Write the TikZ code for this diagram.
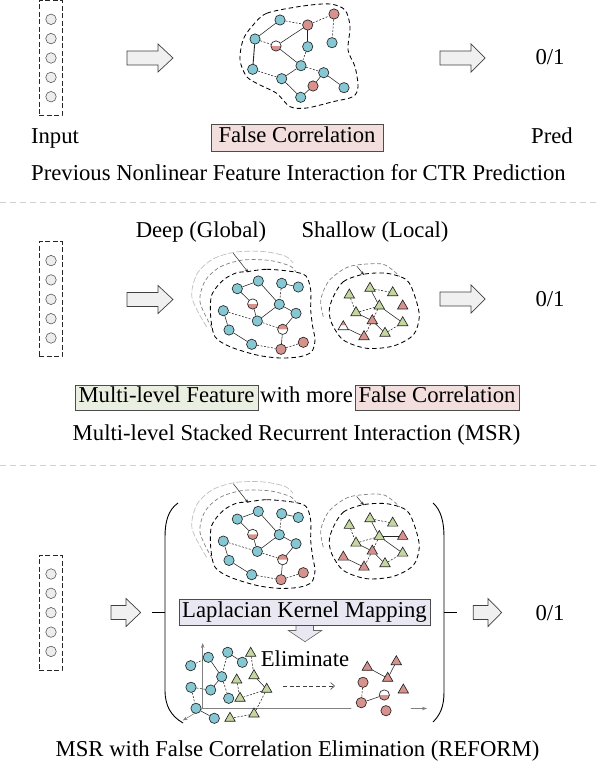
\documentclass[tikz,border=0pt]{standalone}
\usepackage{fontspec}
\setmainfont{Liberation Serif}
\usetikzlibrary{shapes.geometric,arrows.meta}
\definecolor{nblue}{RGB}{134,199,212}
\definecolor{nred}{RGB}{216,146,141}
\definecolor{ngreen}{RGB}{197,214,160}
\definecolor{pinkbox}{RGB}{243,222,222}
\definecolor{greenbox}{RGB}{234,240,225}
\definecolor{lavbox}{RGB}{233,231,242}
\definecolor{arrowfill}{RGB}{240,240,240}
\definecolor{edgec}{RGB}{35,35,35}
\pgfdeclareverticalshading{halfwr}{100bp}{color(0bp)=(nred); color(50bp)=(nred); color(50bp)=(white); color(100bp)=(white)}
\pgfdeclareverticalshading{halfrw}{100bp}{color(0bp)=(white); color(50bp)=(white); color(50bp)=(nred); color(100bp)=(nred)}
\tikzset{
 txt/.style={font=\fontsize{22.7}{27}\selectfont, inner sep=0pt},
 gnode/.style={circle, draw=edgec, line width=0.65pt, minimum size=10.3pt, inner sep=0pt},
 bn/.style={gnode, fill=nblue},
 rn/.style={gnode, fill=nred},
 wrn/.style={gnode, shading=halfwr},
 rwn/.style={gnode, shading=halfrw},
 tri/.style={regular polygon, regular polygon sides=3, draw=edgec, line width=0.65pt, minimum size=12pt, inner sep=0pt},
 gt/.style={tri, fill=ngreen},
 rt/.style={tri, fill=nred},
 rwt/.style={tri, shading=halfrw},
 se/.style={edgec, line width=0.55pt},
 de/.style={edgec, line width=0.55pt, dash pattern=on 2pt off 1.5pt},
 blob/.style={black, line width=0.85pt, dash pattern=on 4.5pt off 3pt},
 ghostA/.style={black!25, line width=0.7pt, dash pattern=on 6pt off 2pt},
 ghostB/.style={black!50, line width=0.7pt, dash pattern=on 4pt off 2.5pt},
 garrow/.style={black!85, line width=0.5pt, -{Stealth[length=4pt,width=3pt]}},
 incirc/.style={circle, draw=black!65, fill=black!7, line width=0.6pt, minimum size=10.5pt, inner sep=0pt},
 inbox/.style={draw=black!85, line width=0.8pt, dash pattern=on 5pt off 2.5pt, minimum width=23pt, minimum height=115pt, inner sep=0pt},
 lbl/.style={txt, draw=black!70, line width=0.7pt, text height=15pt, text depth=5pt},
 bigarr/.style={draw=black!75, fill=arrowfill, line width=0.7pt},
 sepline/.style={black!18, line width=0.8pt, dash pattern=on 6pt off 4pt},
 axis/.style={black!50, line width=0.6pt, -{Stealth[length=5pt,width=3.5pt]}},
}
\newcommand\bigarrow[6]{%
 \draw[bigarr] (#1,#2-#5) -- (#3,#2-#5) -- (#3,#2-#6) -- (#4,#2) -- (#3,#2+#6) -- (#3,#2+#5) -- (#1,#2+#5) -- cycle;}
\newcommand\inputcol[1]{%
 \node[inbox] (box) at (50.5,#1) {};
 \foreach \i/\d in {1/-38.7,2/-19.4,3/0,4/19.4,5/38.7}
   \node[incirc] (c\i) at (51,#1+\d) {};}
\newcommand\deepgraph{%
 \draw[ghostA] plot[smooth] coordinates {(206.7,327) (192,298) (197,274) (213,259) (236,252) (263,251.5) (285,256) (293,263)};
 \draw[ghostB] plot[smooth] coordinates {(212,328) (200,302) (205,281) (220,267) (243,260) (270,260.5) (290,266) (296,272)};
 \draw[blob] plot[smooth cycle] coordinates {(246.7,271.7) (266.7,269.3) (293,271.7) (306,276) (310.7,290) (310.7,310) (312.7,326.7) (315,340) (311.7,351.7) (300,356.7) (280,358) (256.7,355) (230,346.7) (215,336.7) (210.7,316.7) (211.7,295) (223.3,280) (236.7,272.7)};
 \coordinate (ga) at (233.3,253.3); \coordinate (gb) at (248.3,272.5);
 \draw[garrow] (ga) -- (gb);
 \node[bn] (a) at (258.3,281) {};
 \node[bn] (b) at (237.3,288.7) {};
 \node[bn] (c) at (281.7,283.3) {};
 \node[bn] (d) at (298.3,287) {};
 \node[wrn] (e) at (252.7,304) {};
 \node[bn] (f) at (279.3,304.3) {};
 \node[bn] (g) at (223.3,310.7) {};
 \node[bn] (h) at (296,313.3) {};
 \node[bn] (i) at (257.3,321) {};
 \node[rwn] (j) at (282.7,329.3) {};
 \node[bn] (k) at (229,330) {};
 \node[bn] (l) at (251.7,344.3) {};
 \node[rn] (m) at (281,349.3) {};
 \node[rn] (n) at (303.3,342.3) {};
 \draw[se] (b)--(a); \draw[se] (a)--(f); \draw[se] (c)--(d); \draw[de] (c)--(f);
 \draw[se] (b)--(e); \draw[se] (e)--(i); \draw[se] (f)--(i); \draw[se] (f)--(h);
 \draw[se] (h)--(j); \draw[de] (g)--(i); \draw[se] (g)--(k); \draw[de] (i)--(j);
 \draw[se] (k)--(l); \draw[de] (l)--(m); \draw[se] (j)--(m); \draw[de] (m)--(n);
}
\newcommand\shallowgraph[2]{%
 \draw[ghostB] plot[smooth] coordinates {(323.3,316.7) (320.7,300) (328.3,281.7) (343.3,269.3) (356.7,265) (383.3,264.3) (400,276.7)};
 \draw[blob] plot[smooth cycle] coordinates {(333.3,296.7) (343.3,281.7) (363.3,274.3) (386.7,273.3) (406.7,280) (415,296.7) (419.3,316.7) (413.3,335) (393.3,346) (366.7,348.3) (343.3,340) (331.7,323.3) (329.3,310)};
 \coordinate (sa) at (356.7,266); \coordinate (sb) at (364,275);
 \draw[garrow] (sa) -- (sb);
 \node[gt] (T1) at (349.3,295) {};
 \node[gt] (T2) at (370,288.3) {};
 \node[gt] (T3) at (392.7,292.7) {};
 \node[gt] (T4) at (379.3,306) {};
 \node[rt] (T5) at (402.7,306) {};
 \node[gt] (T6) at (356,312.7) {};
 \node[rt] (T7) at (372.3,320.7) {};
 \node[#1] (T8) at (343.3,326.7) {};
 \node[gt] (T9) at (402.7,322.7) {};
 \node[rt] (T10) at (364,336.7) {};
 \node[gt] (T11) at (385,333.3) {};
 \draw[de] (T2)--(T3); \draw[se] (T2)--(T4); \draw[de] (T1)--(T6); \draw[de] (T6)--(T4);
 \draw[se] (T4)--(T9); \draw[se] (T6)--(T7); \draw[de] (T4)--(T7); \draw[de] (T7)--(T10);
 \draw[se] (T7)--(T11); \draw[se] (T8)--(T10); \draw[de] (T11)--(T9);
 #2
}
\begin{document}
\begin{tikzpicture}[x=1pt,y=-1pt]
\useasboundingbox (0,0) rectangle (596,762);
\draw[sepline] (0,202.5) -- (596,202.5);
\draw[sepline] (0,465) -- (596,465);

% ================= TOP =================
\begin{scope}[name prefix=A-]
\inputcol{58}
\end{scope}
\bigarrow{127}{58}{158}{173}{7}{14}
\bigarrow{440}{58}{471}{485}{7}{14}
\draw[blob] plot[smooth cycle] coordinates {(251.7,26.7) (266.7,13.3) (303,6) (330,4) (345,10) (350,26.7) (348,50) (355,66.7) (358,86.7) (353,96.7) (333,101.7) (306.7,108) (290,106.7) (276.7,93.3) (260,85) (246.7,76.7) (240,60) (243,40)};
\node[bn] (t1) at (280,20) {};
\node[rn] (t2) at (307.7,25) {};
\node[rn] (t3) at (334,14) {};
\node[bn] (t4) at (255,39) {};
\node[wrn] (t5) at (276,46) {};
\node[bn] (t6) at (307.7,46.7) {};
\node[bn] (t7) at (332,42.7) {};
\node[bn] (t8) at (252.7,69.3) {};
\node[bn] (t9) at (301,65.7) {};
\node[bn] (t10) at (281.7,78.7) {};
\node[bn] (t11) at (323.7,72.7) {};
\node[rn] (t12) at (313,86) {};
\node[bn] (t13) at (344,87.7) {};
\node[bn] (t14) at (300.7,97.3) {};
\draw[de] (t1)--(t2); \draw[de] (t2)--(t3); \draw[de] (t3)--(t7); \draw[de] (t4)--(t5);
\draw[de] (t6)--(t9); \draw[de] (t8)--(t10); \draw[de] (t9)--(t11);
\draw[se] (t1)--(t4); \draw[se] (t2)--(t5); \draw[se] (t2)--(t6); \draw[se, line width=0.9pt] (t4)--(t8);
\draw[se] (t5)--(t9); \draw[se] (t9)--(t10); \draw[se] (t11)--(t12); \draw[se] (t11)--(t13);
\draw[se] (t12)--(t14); \draw[se] (t10)--(t14);
\node[txt, anchor=base] (inputlbl) at (55,143.3) {Input};
\node[lbl, fill=pinkbox, minimum width=172pt, minimum height=27pt] (fc1) at (297,137.5) {False Correlation};
\node[txt, anchor=base] (predlbl) at (552,143.3) {Pred};
\node[txt, anchor=base] (out1) at (550,65) {0/1};
\node[txt, anchor=base] (cap1) at (298.5,180) {Previous Nonlinear Feature Interaction for CTR Prediction};

% ================= MIDDLE =================
\begin{scope}[name prefix=B-]
\inputcol{299.3}
\end{scope}
\bigarrow{127}{299.5}{158}{173}{7}{14}
\bigarrow{440}{299}{471}{485}{7}{14}
\begin{scope}[name prefix=m-]
\deepgraph
\shallowgraph{rwt}{}
\end{scope}
\node[txt, anchor=base] (deeplbl) at (201,237) {Deep (Global)};
\node[txt, anchor=base] (shallowlbl) at (375,237) {Shallow (Local)};
\node[txt, anchor=base] (out2) at (550,306.7) {0/1};
\node[lbl, fill=greenbox, minimum width=183pt, minimum height=25pt] (mlf) at (166.5,397.5) {Multi-level Feature};
\node[txt, anchor=base] (withmore) at (306.5,402.5) {with more};
\node[lbl, fill=pinkbox, minimum width=164pt, minimum height=25pt] (fc2) at (437,397.5) {False Correlation};
\node[txt, anchor=base] (cap2) at (296.5,440) {Multi-level Stacked Recurrent Interaction (MSR)};

% ================= BOTTOM =================
\begin{scope}[name prefix=C-]
\inputcol{612.7}
\end{scope}
\bigarrow{111}{612.5}{126}{140.7}{7}{14}
\bigarrow{473.3}{612.5}{488}{501.7}{7}{14}
\begin{scope}[name prefix=b-, shift={(0,230.4)}]
\deepgraph
\shallowgraph{rt}{\draw[se] (T4)--(T5);}
\end{scope}
% brackets
\coordinate (lp1) at (178,503); \coordinate (lp2) at (183,723);
\coordinate (rp1) at (433,503); \coordinate (rp2) at (433,722);
\draw[black, line width=0.9pt] (lp1) .. controls (168,510) and (165,522) .. (165,537) -- (165,690) .. controls (165,706) and (171,716) .. (lp2);
\draw[black, line width=0.9pt] (rp1) .. controls (441,510) and (444,522) .. (444,537) -- (444,692) .. controls (444,707) and (440,715) .. (rp2);
\coordinate (lt1) at (151.7,612.5); \coordinate (lt2) at (165,612.5);
\coordinate (rt1) at (444,612.3); \coordinate (rt2) at (456.7,612.3);
\draw[black, line width=0.9pt] (lt1) -- (lt2);
\draw[black, line width=0.9pt] (rt1) -- (rt2);
% down arrow and kernel box
\draw[draw=black!60, fill=lavbox, line width=0.6pt] (296,624) -- (296,630.5) -- (288.3,630.5) -- (305,641.7) -- (321.7,630.5) -- (313.5,630.5) -- (313.5,624);
\node[lbl, fill=lavbox, minimum width=251pt, minimum height=26.5pt] (lkm) at (304.5,612.5) {Laplacian Kernel Mapping};
\node[txt, anchor=base] (elim) at (305,666.7) {Eliminate};
\node[txt, anchor=base] (out3) at (550,620) {0/1};
\node[txt, anchor=base] (cap3) at (297.5,756.7) {MSR with False Correlation Elimination (REFORM)};
% axes
\coordinate (o) at (202.7,708.5);
\coordinate (ay) at (202.7,643);
\coordinate (ax) at (427,708.5);
\coordinate (az) at (182.7,720.5);
\draw[axis] (o) -- (ay);
\draw[axis] (o) -- (ax);
\draw[axis] (o) -- (az);
% eliminate arrow
\coordinate (e1) at (283.3,686); \coordinate (e2) at (335,686);
\draw[black!75, line width=0.6pt, dash pattern=on 4pt off 2.5pt, -{Straight Barb[length=4pt,width=7pt]}] (e1) -- (e2);
% scattered nodes
\node[bn] (s1) at (190.7,665.7) {};
\node[bn] (s2) at (208.3,657.3) {};
\node[bn] (s3) at (227.7,652.3) {};
\node[bn] (s4) at (242.3,662.3) {};
\node[bn] (s5) at (221.7,676.7) {};
\node[bn] (s6) at (191,687.3) {};
\node[bn] (s7) at (210.7,690) {};
\node[bn] (s8) at (228.7,698.3) {};
\node[bn] (s9) at (196,708.3) {};
\node[bn] (s10) at (214.3,718.3) {};
\node[gt] (u1) at (250.7,653.3) {};
\node[gt] (u2) at (254,675.7) {};
\node[gt] (u3) at (236.7,680) {};
\node[gt] (u4) at (266.7,689.3) {};
\node[gt] (u5) at (240,698.3) {};
\node[gt] (u6) at (230,718.3) {};
\node[gt] (u7) at (254,714) {};
\draw[de] (s1)--(s2); \draw[se] (s2)--(s5); \draw[de] (s3)--(s5); \draw[se] (s3)--(s4);
\draw[se] (s5)--(s7); \draw[de] (s6)--(s7); \draw[de] (s5)--(s8); \draw[de] (s6)--(s9);
\draw[se] (s9)--(s10);
\draw[de] (u1)--(u2); \draw[se] (u2)--(u4); \draw[de] (u3)--(u5); \draw[de] (u5)--(u4);
\draw[de] (u4)--(u7); \draw[de] (u7)--(u6);
% right cluster
\node[blob, fill=white, ellipse, minimum width=72pt, minimum height=76pt, inner sep=0pt] (clu) at (381,687) {};
\node[rt] (r1) at (367.3,667.3) {};
\node[rt] (r2) at (396.3,661.7) {};
\node[rt] (r3) at (387.7,678.3) {};
\node[rt] (r4) at (403.3,690) {};
\node[rn] (r5) at (363,682.3) {};
\node[wrn] (r6) at (384.3,695) {};
\node[rn] (r7) at (361.3,702.7) {};
\node[rn] (r8) at (386,710.7) {};
\draw[se] (r1)--(r3); \draw[se] (r2)--(r3); \draw[de] (r5)--(r7); \draw[se] (r7)--(r6);
\end{tikzpicture}
\end{document}
